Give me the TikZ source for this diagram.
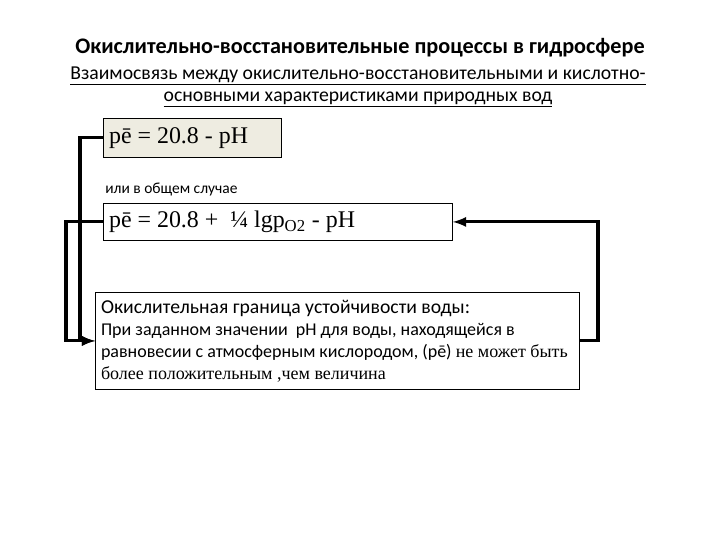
\documentclass[tikz,border=0pt]{standalone}
\usepackage{fontspec}
\setmainfont{Carlito}
\newfontfamily\tnr{Liberation Serif}
\definecolor{boxfill}{HTML}{EEECE1}
\begin{document}
\begin{tikzpicture}[x=0.025cm, y=-0.025cm,
		box/.style={draw, line width=0.6pt, anchor=north west, inner sep=4pt, align=flush left},
		conn/.style={-latex, line width=2.2pt}]
		\useasboundingbox (0,0) rectangle (720,540);
		\node (title) at (360,48) {\fontsize{15.8}{18}\selectfont\bfseries Окислительно-восстановительные процессы в гидросфере};
		\node[align=center, font=\fontsize{14}{15.6}\selectfont] (sub) at (358,87) {\underline{Взаимосвязь между окислительно-восстановительными и кислотно-}\\\underline{основными характеристиками природных вод}};
		\node[box, fill=boxfill, text width=118.6pt, minimum height=27.7pt, font=\tnr\fontsize{17}{19}\selectfont] (b1) at (103,118) {pē = 20.8 - pH};
		\node[anchor=west, inner sep=0pt, font=\fontsize{11}{13}\selectfont] (note) at (105,189) {или в общем случае};
		\node[box, text width=240.2pt, minimum height=26.3pt, font=\tnr\fontsize{17}{19}\selectfont] (b2) at (103,203) {pē = 20.8 +\ \ ¼ lgp\textsubscript{O2} - pH};
		\node[box, text width=336.3pt, minimum height=69pt, inner ysep=3pt, font=\fontsize{12.8}{15.6}\selectfont] (b3) at (95,292) {{\fontsize{14}{15.6}\selectfont Окислительная граница устойчивости воды:}\\
			При заданном значении\ \ pH для воды, находящейся в\\
			равновесии с атмосферным кислородом, (pē) {\tnr не может быть}\\
			{\tnr более положительным ,чем величина}};
		% connectors
		\draw[conn] (b1.west) -- ++(-23,0) |- (b3.west);
		\draw[conn] (b2.west) -- ++(-37,0) |- (b3.west);
		\draw[conn] (b3.east) -- ++(18,0) |- (b2.east);
	\end{tikzpicture}
\end{document}
